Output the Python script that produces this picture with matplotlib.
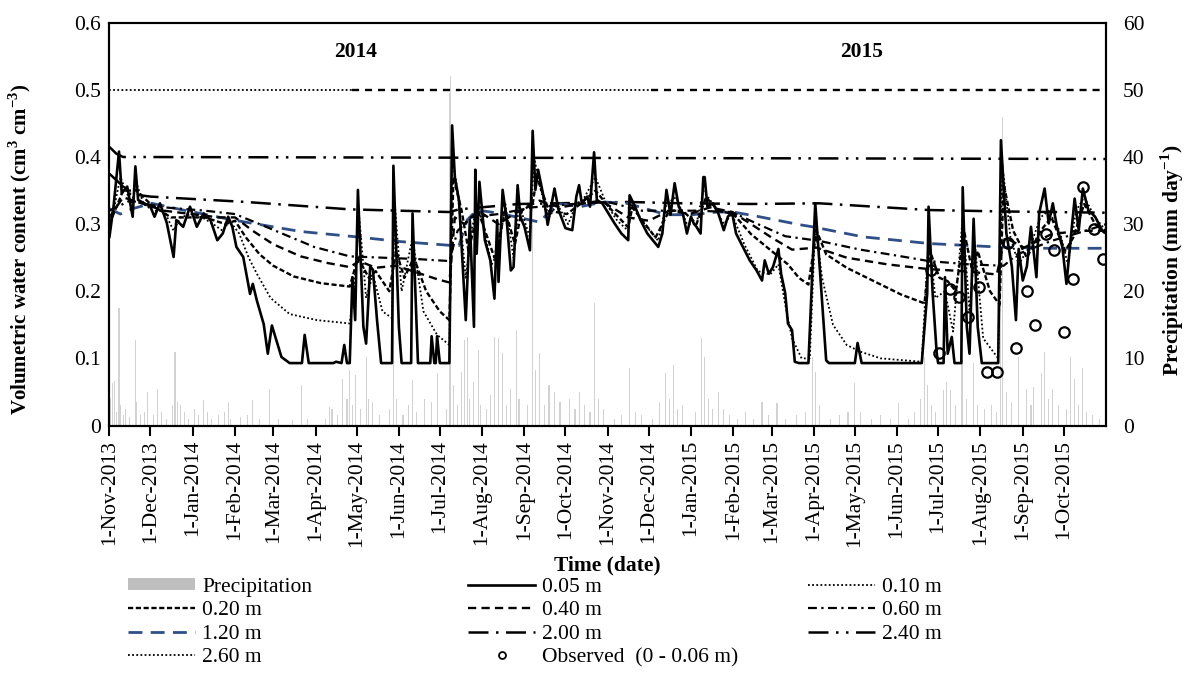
import numpy as np
import pandas as pd
import matplotlib
matplotlib.use("Agg")
import matplotlib.pyplot as plt
from matplotlib.lines import Line2D
from matplotlib.patches import Patch

plt.rcParams['font.family'] = ['Liberation Serif', 'DejaVu Serif']
plt.rcParams['mathtext.fontset'] = 'custom'
plt.rcParams['mathtext.rm'] = 'Liberation Serif'
plt.rcParams['mathtext.bf'] = 'Liberation Serif:bold'

START = pd.Timestamp('2013-11-01')
NDAYS = 730
FS = 15.5

# daily precipitation (day offset from START, mm)
rain_day = [1, 2, 4, 5, 7, 8, 10, 12, 15, 19, 20, 23, 26, 28,
            32, 35, 38, 42, 46, 48, 50, 52, 55, 58,
            62, 65, 69, 72, 75, 80, 84, 87, 89,
            96, 101, 105, 110, 117,
            124, 134, 141, 145,
            158, 161, 163, 167, 171, 174, 176, 178, 180,
            184, 188, 190, 193, 198, 205, 208, 210,
            215, 219, 222, 225, 231, 236, 240,
            247, 249, 250, 252, 255, 258, 260, 262, 264, 267, 270, 272,
            276, 279, 282, 285, 288, 291, 294, 298, 300,
            306, 310, 312, 315, 319, 322, 326, 330,
            337, 341, 344, 348, 352, 355, 358, 362,
            370, 375, 381, 385, 390,
            398, 403, 407, 410, 413, 416, 420,
            429, 434, 436, 439, 442, 446, 450, 454,
            460, 466, 472, 478, 483,
            489, 495, 503, 510, 515,
            517, 520, 528, 535, 541,
            546, 550, 558, 565, 572,
            578, 585, 590, 594, 597, 599, 602, 605,
            611, 613, 616, 620, 624, 625, 628, 633, 636,
            641, 646, 650, 653, 654, 657, 661, 666,
            672, 675, 677, 683, 685, 688, 691, 695,
            701, 704, 707, 710, 713, 716, 720, 725]
rain_mm = [4.0, 6.3, 6.6, 2.0, 17.5, 3.0, 1.5, 2.5, 1.2, 12.7, 3.5, 1.5, 2.0, 5.0,
           1.5, 5.5, 2.0, 1.0, 3.0, 11.0, 3.5, 3.0, 2.0, 1.0,
           2.5, 1.5, 3.8, 2.0, 1.0, 1.5, 2.0, 3.5, 1.0,
           1.2, 1.5, 3.8, 1.0, 5.5,
           1.0, 0.8, 6.0, 1.0,
           1.0, 2.8, 2.5, 1.5, 7.0, 4.0, 8.3, 3.0, 7.5,
           2.5, 10.2, 4.0, 3.5, 1.5, 2.5, 25.0, 4.0,
           1.5, 3.0, 6.8, 2.0, 4.0, 3.5, 7.8,
           2.5, 49.5, 52.0, 6.0, 3.0, 8.0, 12.7, 13.2, 4.0, 6.5, 11.2, 3.0,
           2.5, 4.5, 13.2, 13.0, 10.8, 3.0, 5.5, 14.2, 4.0,
           3.0, 42.0, 8.3, 10.8, 3.0, 6.0, 5.0, 3.5,
           4.0, 2.5, 5.0, 3.0, 2.0, 18.2, 4.0, 2.5,
           1.0, 1.5, 8.5, 2.0, 1.5,
           1.0, 3.5, 7.8, 4.0, 9.0, 2.5, 3.0,
           2.0, 13.0, 10.2, 4.0, 2.5, 5.0, 2.5, 1.5,
           1.0, 2.0, 1.0, 3.5, 1.5,
           3.4, 1.0, 1.5, 2.0, 10.2,
           8.0, 3.0, 1.0, 1.5, 2.0,
           6.3, 2.0, 1.0, 1.5, 1.0,
           3.3, 1.0, 2.0, 4.0, 10.2, 6.0, 3.0, 2.0,
           5.3, 6.5, 5.3, 3.0, 9.3, 9.8, 4.0, 9.3, 3.0,
           2.5, 3.0, 2.0, 20.0, 46.0, 5.0, 3.5, 10.2,
           5.5, 3.0, 5.8, 7.8, 11.0, 4.0, 5.5, 3.0,
           2.5, 10.2, 7.0, 3.0, 8.5, 2.0, 1.5, 1.0]

# simulated water content at 0.05 m
d005 = [0, 3, 7, 9, 13, 17, 19, 21, 30, 33, 37, 42, 47, 49, 54, 59, 64, 69, 74, 79,
        83, 87, 90, 93, 98, 103, 105, 108, 113, 116, 119, 123, 126, 132, 141, 143, 146,
        164, 166, 170, 172, 174, 176, 178, 180, 182, 186, 188, 191, 193, 196, 199, 207,
        208, 212, 214, 221, 222, 226, 235, 236, 238, 239, 240, 242, 249, 251, 253, 256,
        258, 261, 264, 267, 268, 269, 271, 275, 279, 282, 284, 285, 288, 291, 294, 296,
        299, 301, 304, 308, 310, 312, 314, 318, 321, 326, 329, 334, 339, 342, 344, 346,
        350, 352, 355, 357, 361, 364, 370, 375, 380, 381, 385, 389, 394, 398, 402, 405,
        408, 411, 414, 417, 420, 423, 426, 428, 430, 433, 435, 436, 438, 442, 446, 450,
        453, 456, 459, 464, 469, 474, 478, 480, 483, 486, 490, 492, 495, 497, 500, 502,
        505, 512, 517, 525, 527, 546, 548, 551, 595, 599, 600, 603, 606, 607, 611, 612,
        614, 617, 619, 624, 625, 628, 630, 633, 636, 639, 651, 653, 657, 661, 664, 666,
        669, 672, 675, 679, 681, 685, 688, 691, 694, 698, 701, 704, 707, 710, 713, 717,
        722, 727, 730]
v005 = [0.281, 0.326, 0.408, 0.346, 0.356, 0.311, 0.386, 0.336, 0.326, 0.311, 0.331,
        0.302, 0.251, 0.306, 0.296, 0.326, 0.296, 0.316, 0.306, 0.276, 0.286, 0.311,
        0.296, 0.266, 0.251, 0.196, 0.211, 0.186, 0.151, 0.107, 0.149, 0.122, 0.102,
        0.093, 0.093, 0.135, 0.093, 0.093, 0.095, 0.093, 0.120, 0.093, 0.093, 0.221,
        0.157, 0.351, 0.147, 0.122, 0.237, 0.232, 0.157, 0.093, 0.093, 0.387, 0.147,
        0.093, 0.093, 0.316, 0.093, 0.093, 0.133, 0.093, 0.093, 0.133, 0.093, 0.093,
        0.447, 0.370, 0.336, 0.266, 0.157, 0.306, 0.147, 0.381, 0.256, 0.363, 0.276,
        0.246, 0.189, 0.306, 0.214, 0.351, 0.306, 0.231, 0.236, 0.358, 0.311, 0.296,
        0.261, 0.439, 0.351, 0.381, 0.341, 0.299, 0.353, 0.321, 0.294, 0.291, 0.341,
        0.358, 0.331, 0.341, 0.326, 0.407, 0.336, 0.331, 0.321, 0.301, 0.286, 0.276,
        0.343, 0.326, 0.306, 0.286, 0.276, 0.266, 0.286, 0.351, 0.314, 0.361, 0.326,
        0.316, 0.286, 0.311, 0.301, 0.296, 0.286, 0.370, 0.370, 0.326, 0.331, 0.316,
        0.291, 0.311, 0.318, 0.286, 0.266, 0.246, 0.231, 0.216, 0.246, 0.226, 0.236,
        0.263, 0.226, 0.197, 0.152, 0.142, 0.095, 0.093, 0.093, 0.331, 0.097, 0.093,
        0.093, 0.123, 0.093, 0.093, 0.197, 0.326, 0.197, 0.107, 0.093, 0.093, 0.221,
        0.107, 0.132, 0.093, 0.093, 0.355, 0.147, 0.107, 0.308, 0.147, 0.093, 0.093,
        0.425, 0.286, 0.237, 0.157, 0.263, 0.216, 0.237, 0.296, 0.221, 0.316, 0.353,
        0.301, 0.331, 0.296, 0.266, 0.211, 0.276, 0.338, 0.291, 0.353, 0.321, 0.311,
        0.291, 0.286]

d010 = [0, 4, 8, 12, 16, 20, 25, 32, 40, 47, 52, 60, 68, 76, 83, 88, 95, 102, 108, 118,
        132, 152, 176, 179, 183, 188, 193, 200, 207, 209, 214, 222, 230, 240, 249, 251,
        255, 261, 265, 270, 280, 285, 290, 296, 300, 308, 311, 316, 322, 328, 336, 342,
        348, 356, 364, 372, 380, 382, 392, 402, 408, 415, 423, 430, 435, 442, 450, 456,
        465, 475, 484, 490, 495, 500, 507, 513, 517, 522, 530, 540, 550, 565, 595, 600,
        605, 612, 618, 625, 630, 634, 640, 651, 654, 660, 666, 675, 682, 688, 696, 702,
        708, 714, 722, 730]
v010 = [0.30, 0.33, 0.37, 0.35, 0.33, 0.36, 0.33, 0.32, 0.32, 0.29, 0.31, 0.315, 0.31,
        0.30, 0.29, 0.305, 0.286, 0.25, 0.226, 0.19, 0.166, 0.157, 0.152, 0.20, 0.31,
        0.19, 0.225, 0.17, 0.16, 0.33, 0.20, 0.28, 0.17, 0.135, 0.12, 0.40, 0.35, 0.22,
        0.29, 0.33, 0.24, 0.26, 0.33, 0.25, 0.33, 0.28, 0.40, 0.35, 0.31, 0.33, 0.30,
        0.33, 0.34, 0.37, 0.33, 0.305, 0.29, 0.33, 0.30, 0.275, 0.33, 0.34, 0.30, 0.30,
        0.35, 0.33, 0.30, 0.315, 0.27, 0.23, 0.225, 0.24, 0.18, 0.13, 0.10, 0.10, 0.30,
        0.22, 0.15, 0.12, 0.11, 0.10, 0.095, 0.28, 0.19, 0.20, 0.14, 0.31, 0.17, 0.27,
        0.13, 0.10, 0.39, 0.28, 0.24, 0.27, 0.31, 0.32, 0.29, 0.24, 0.32, 0.34, 0.31, 0.29]

d020 = [0, 6, 10, 20, 30, 45, 55, 70, 85, 92, 100, 110, 120, 135, 155, 176, 182, 190,
        195, 205, 210, 216, 223, 232, 242, 249, 252, 258, 263, 270, 282, 290, 297, 302,
        310, 313, 322, 335, 345, 356, 366, 380, 383, 400, 410, 420, 430, 437, 446, 457,
        470, 485, 497, 505, 512, 518, 525, 540, 560, 580, 597, 601, 608, 614, 620, 626,
        632, 636, 645, 652, 655, 662, 672, 682, 690, 700, 706, 714, 722, 730]
v020 = [0.30, 0.33, 0.35, 0.35, 0.33, 0.31, 0.31, 0.31, 0.30, 0.305, 0.28, 0.255,
        0.238, 0.222, 0.212, 0.207, 0.25, 0.22, 0.23, 0.20, 0.26, 0.22, 0.25, 0.20,
        0.17, 0.157, 0.37, 0.32, 0.26, 0.32, 0.25, 0.32, 0.27, 0.32, 0.33, 0.37, 0.32,
        0.315, 0.33, 0.35, 0.325, 0.295, 0.325, 0.28, 0.32, 0.32, 0.30, 0.34, 0.32,
        0.315, 0.285, 0.26, 0.24, 0.22, 0.21, 0.29, 0.255, 0.235, 0.215, 0.195, 0.182,
        0.26, 0.22, 0.215, 0.20, 0.29, 0.23, 0.26, 0.20, 0.18, 0.36, 0.29, 0.25, 0.29,
        0.31, 0.26, 0.28, 0.33, 0.30, 0.285]

d040 = [0, 10, 25, 40, 60, 80, 92, 105, 120, 140, 160, 176, 183, 195, 210, 225, 240,
        249, 253, 260, 270, 285, 300, 315, 330, 345, 360, 380, 395, 410, 425, 440, 456,
        470, 485, 500, 518, 540, 570, 600, 625, 650, 656, 670, 690, 710, 730]
v040 = [0.31, 0.34, 0.33, 0.32, 0.315, 0.31, 0.31, 0.29, 0.27, 0.252, 0.242, 0.236,
        0.245, 0.235, 0.238, 0.228, 0.218, 0.213, 0.31, 0.30, 0.32, 0.30, 0.32, 0.335,
        0.325, 0.33, 0.335, 0.31, 0.305, 0.32, 0.315, 0.325, 0.318, 0.30, 0.28, 0.262,
        0.265, 0.25, 0.24, 0.233, 0.23, 0.225, 0.28, 0.265, 0.285, 0.29, 0.29]

d060 = [0, 15, 40, 70, 92, 110, 130, 150, 176, 200, 225, 249, 255, 265, 285, 310, 340,
        365, 390, 410, 430, 456, 475, 495, 520, 550, 580, 600, 630, 655, 665, 690, 715, 730]
v060 = [0.32, 0.335, 0.325, 0.32, 0.315, 0.30, 0.283, 0.266, 0.252, 0.25, 0.248, 0.245,
        0.29, 0.31, 0.315, 0.325, 0.33, 0.333, 0.32, 0.32, 0.32, 0.318, 0.30, 0.282,
        0.275, 0.262, 0.252, 0.245, 0.24, 0.238, 0.255, 0.275, 0.29, 0.30]

d120 = [0, 8, 17, 31, 54, 91, 140, 181, 213, 252, 256, 262, 269, 286, 315, 328, 345,
        362, 379, 408, 427, 445, 457, 476, 506, 515, 552, 601, 650, 686, 730]
v120 = [0.323, 0.315, 0.323, 0.331, 0.321, 0.306, 0.289, 0.281, 0.274, 0.268, 0.268,
        0.306, 0.321, 0.316, 0.303, 0.331, 0.326, 0.333, 0.331, 0.314, 0.314, 0.318,
        0.318, 0.311, 0.299, 0.296, 0.281, 0.271, 0.266, 0.264, 0.264]

d200 = [0, 8, 15, 30, 100, 176, 249, 256, 300, 380, 420, 470, 520, 600, 650, 730]
v200 = [0.375, 0.36, 0.345, 0.341, 0.333, 0.322, 0.318, 0.322, 0.33, 0.333, 0.331,
        0.33, 0.331, 0.321, 0.319, 0.317]

d240 = [0, 5, 10, 250, 500, 730]
v240 = [0.415, 0.405, 0.40, 0.399, 0.398, 0.397]

d260 = [0, 178, 257, 397, 730]
v260 = [0.5, 0.5, 0.5, 0.5, 0.5]

# measured water content, 0 - 0.06 m
obs_day = [602, 608, 616, 622, 629, 637, 643, 650, 658, 664, 672, 678, 686, 692, 699,
           706, 713, 721, 728]
obs_val = [0.232, 0.108, 0.204, 0.191, 0.161, 0.206, 0.080, 0.080, 0.272, 0.115, 0.200,
           0.149, 0.286, 0.261, 0.139, 0.218, 0.356, 0.292, 0.248]

year_labels = ['2014', '2015']
year_day = [180, 551]

BLUE = '#2f4f88'
styles = {
    '0.05 m': dict(color='black', lw=1.9, ls='-'),
    '0.10 m': dict(color='black', lw=1.3, dashes=(1, 1.3)),
    '0.20 m': dict(color='black', lw=1.7, dashes=(2.2, 1.1)),
    '0.40 m': dict(color='black', lw=1.7, dashes=(3.5, 2.2)),
    '0.60 m': dict(color='black', lw=1.6, dashes=(4, 2, 1, 2)),
    '1.20 m': dict(color=BLUE, lw=2.0, dashes=(5, 3)),
    '2.00 m': dict(color='black', lw=1.8, dashes=(8, 3, 1, 3)),
    '2.40 m': dict(color='black', lw=1.8, dashes=(8, 3, 1, 3, 1, 3)),
    '2.60 m': dict(color='black', lw=1.3, dashes=(1, 1.3)),
}


def dates(days):
    return START + pd.to_timedelta(np.asarray(days, dtype=float), unit='D')


fig = plt.figure(figsize=(11.87, 6.97), dpi=100)
axp = fig.add_axes([0.0922, 0.3895, 0.8396, 0.5779])
axw = axp.twinx()

# precipitation on the right-hand scale, drawn behind the lines
axp.bar(dates(rain_day), rain_mm, width=0.8, color='#d2d2d2', lw=0, zorder=1)
axp.set_ylim(0, 60)
axp.set_yticks(np.arange(0, 61, 10))
axp.yaxis.tick_right()
axp.yaxis.set_label_position('right')
axp.set_ylabel('Precipitation (mm day$^{\\mathbf{-1}}$)', fontsize=FS,
               fontweight='bold', labelpad=10)
axp.yaxis.label.set_y(0.41)

# the 2.60 m layer changes line pattern part way along
for i in range(len(d260) - 1):
    st = dict(styles['2.60 m'])
    if i % 2 == 1:
        st['dashes'] = (3, 2.5)
        st['lw'] = 1.7
    axw.plot(dates(d260[i:i + 2]), v260[i:i + 2], **st)

series = [('2.40 m', d240, v240), ('2.00 m', d200, v200), ('1.20 m', d120, v120),
          ('0.60 m', d060, v060), ('0.40 m', d040, v040), ('0.20 m', d020, v020),
          ('0.10 m', d010, v010), ('0.05 m', d005, v005)]
for name, dd, vv in series:
    axw.plot(dates(dd), vv, **styles[name])

axw.plot(dates(obs_day), obs_val, ls='none', marker='o', ms=7.5, mfc='none',
         mec='black', mew=1.6, zorder=5)

for lab, dy in zip(year_labels, year_day):
    axw.text(dates([dy])[0], 0.556, lab, ha='center', va='center', fontsize=FS,
             fontweight='bold')

axw.set_ylim(0, 0.6)
axw.set_yticks(np.arange(0, 0.61, 0.1))
axw.set_yticklabels(['0', '0.1', '0.2', '0.3', '0.4', '0.5', '0.6'])
axw.yaxis.tick_left()
axw.yaxis.set_label_position('left')
axw.set_ylabel('Volumetric water content (cm$^{\\mathbf{3}}$ cm$^{\\mathbf{-3}}$)',
               fontsize=15, fontweight='bold', labelpad=30)
axw.yaxis.label.set_y(0.438)

axp.set_xlim(START, START + pd.Timedelta(days=NDAYS))
months = pd.date_range('2013-11-01', '2015-10-01', freq='MS')
axp.set_xticks(months)
axp.set_xticklabels([f"{m.day}-{m.strftime('%b-%Y')}" for m in months],
                    rotation=90, fontsize=FS)
axp.set_xlabel('Time (date)', fontsize=FS, fontweight='bold', labelpad=6)

axp.tick_params(axis='x', direction='out', length=7, width=1.5)
axp.tick_params(axis='y', length=0, labelsize=FS, pad=12)
axw.tick_params(axis='y', length=0, labelsize=FS, pad=6)
for a in (axp, axw):
    for sp in a.spines.values():
        sp.set_linewidth(1.5)

# legend laid out as three columns under the axes
def proxy(name):
    return Line2D([], [], **styles[name])

obs_h = Line2D([], [], ls='none', marker='o', ms=5, mfc='none', mec='black', mew=1.3)
cols = [
    ([Patch(facecolor='#bfbfbf', edgecolor='none'), proxy('0.20 m'), proxy('1.20 m'),
      proxy('2.60 m')], ['Precipitation', '0.20 m', '1.20 m', '2.60 m'], 0.1078),
    ([proxy('0.05 m'), proxy('0.40 m'), proxy('2.00 m'), obs_h],
     ['0.05 m', '0.40 m', '2.00 m', 'Observed  (0 - 0.06 m)'], 0.3943),
    ([proxy('0.10 m'), proxy('0.60 m'), proxy('2.40 m')],
     ['0.10 m', '0.60 m', '2.40 m'], 0.6807),
]
for hs, ls, x in cols:
    fig.legend(hs, ls, loc='upper left', bbox_to_anchor=(x, 0.1708), frameon=False,
               borderpad=0, borderaxespad=0, handlelength=3.12, handletextpad=0.33,
               labelspacing=0.2, fontsize=FS, handleheight=0.5)

fig.savefig('out.png', dpi=100)
